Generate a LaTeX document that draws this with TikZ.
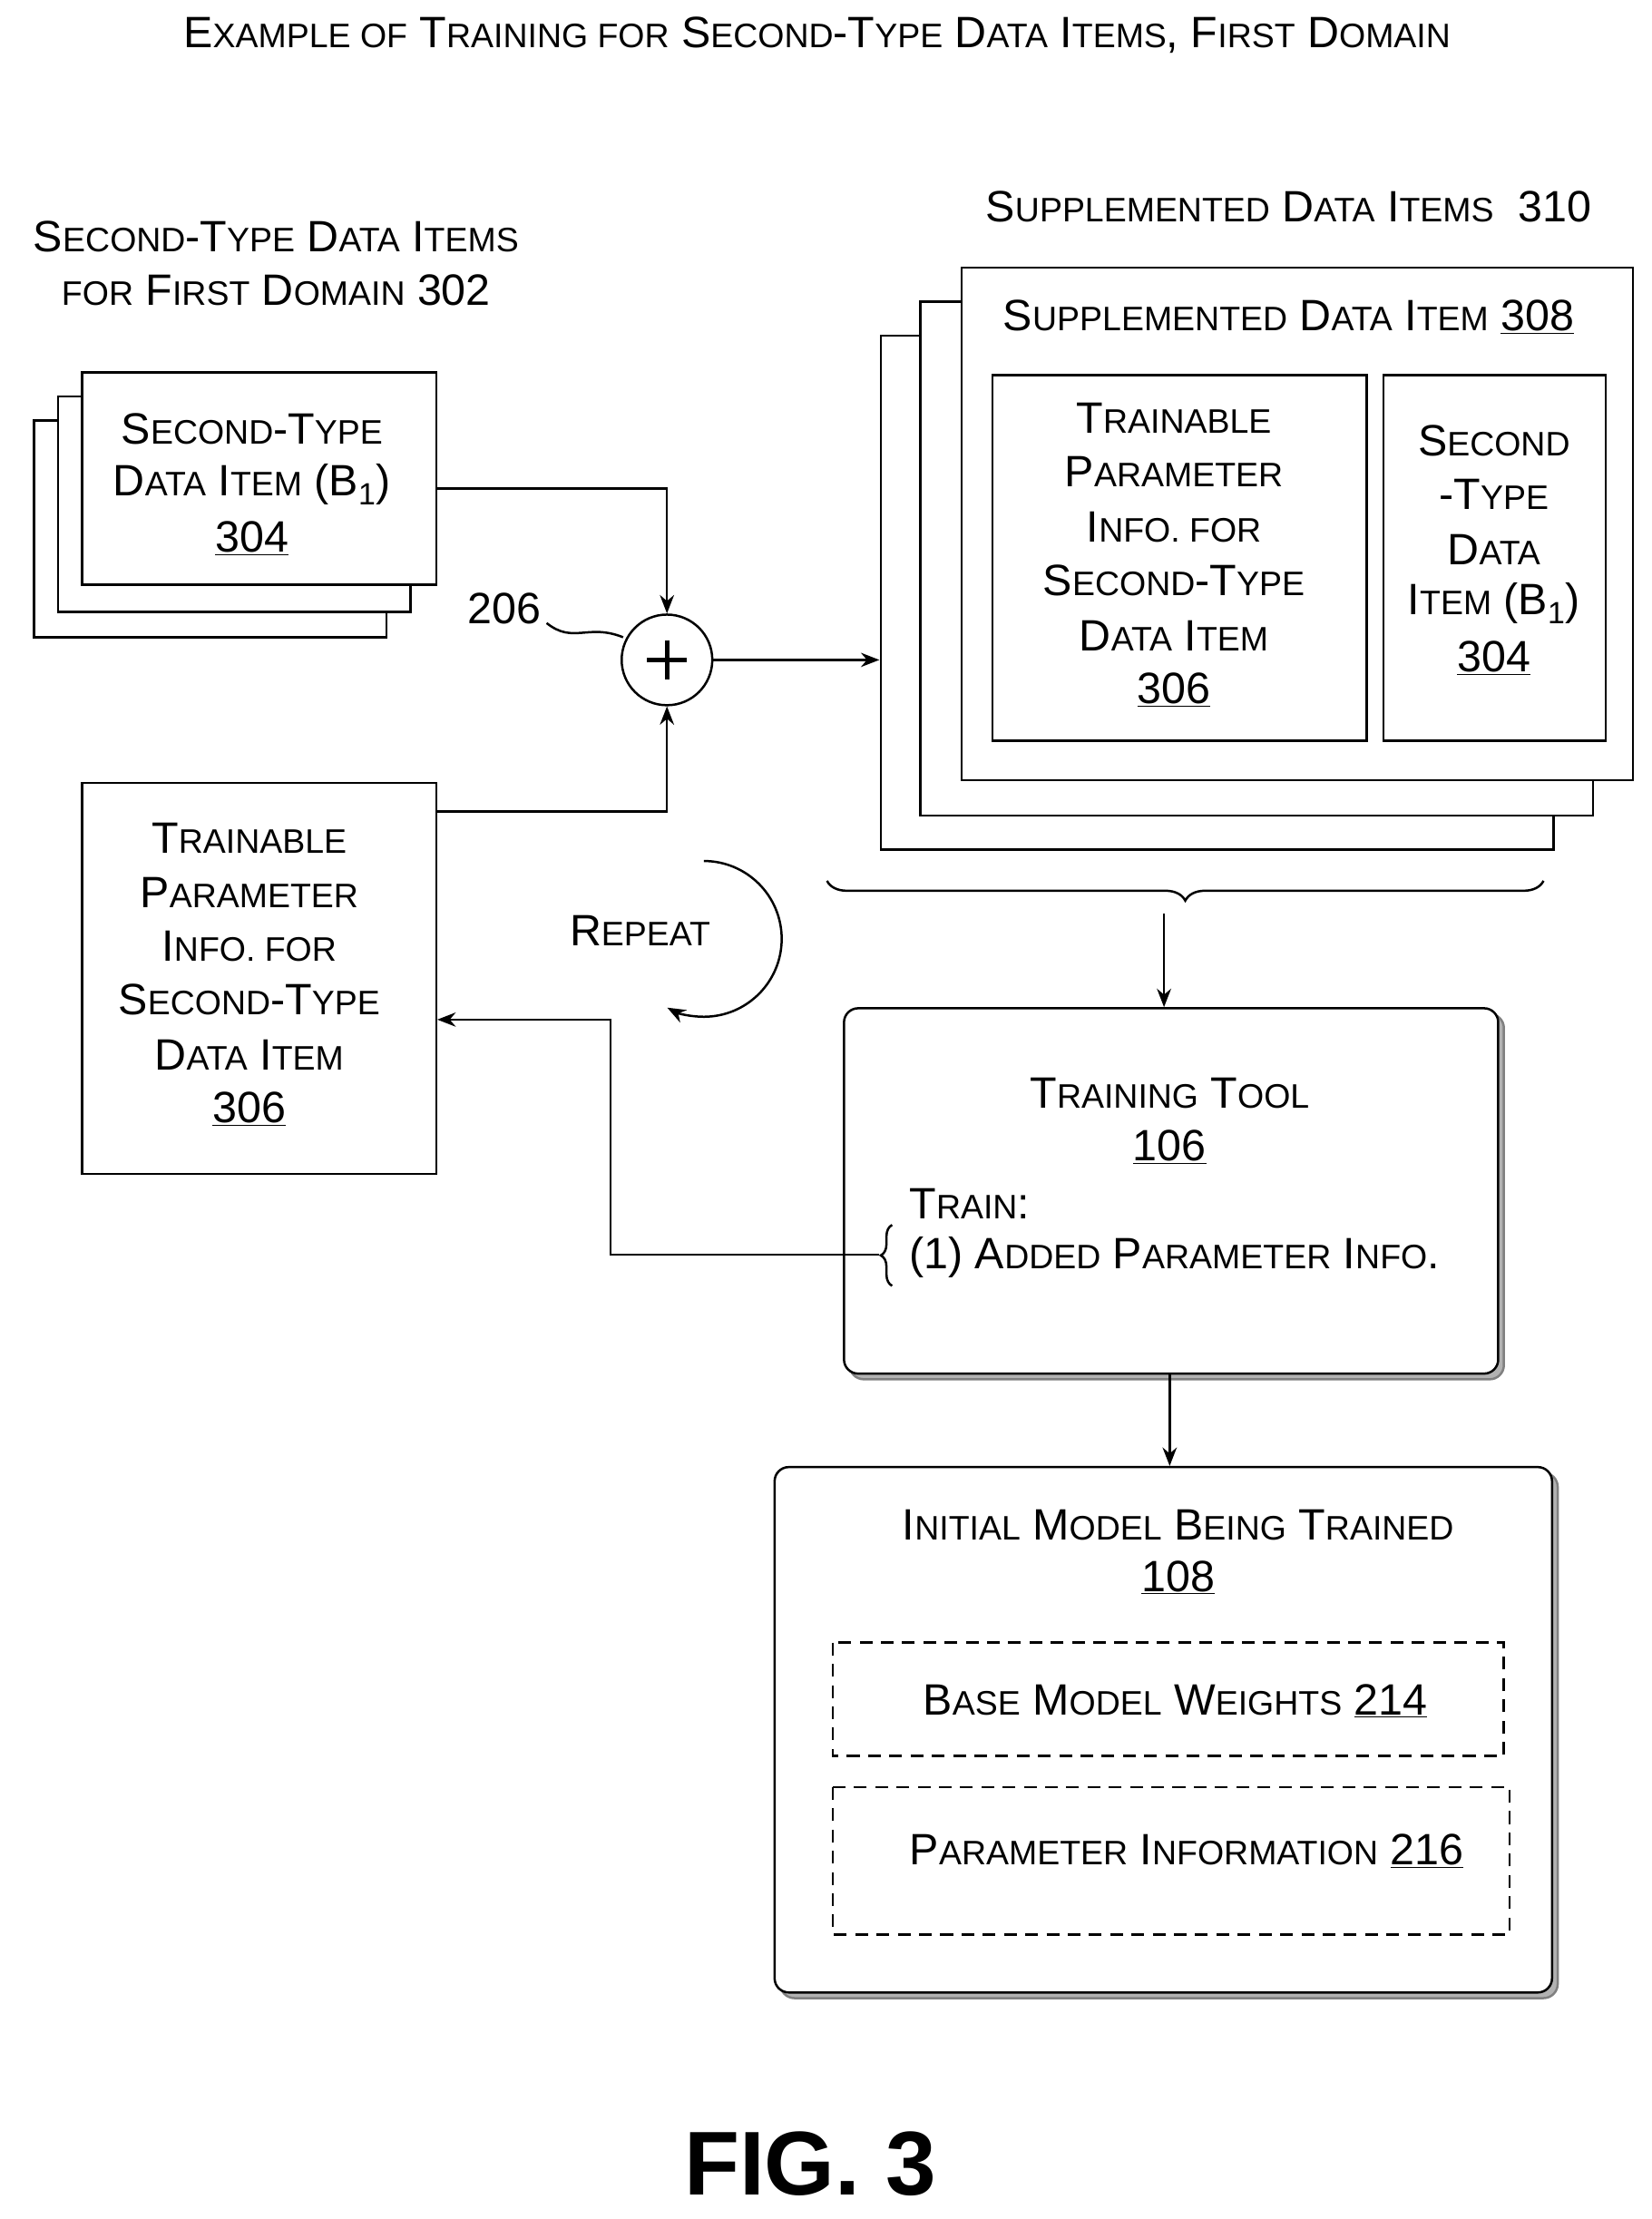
\documentclass[tikz,border=0pt]{standalone}
\usepackage{fontspec}
\setmainfont{Liberation Sans}
\usetikzlibrary{arrows.meta,decorations.pathreplacing}
\newcommand\sm[1]{{\fontsize{24}{24}\selectfont\MakeUppercase{#1}}}
\begin{document}
\begin{tikzpicture}[x=1pt,y=-1pt,
  every node/.style={font=\fontsize{31}{31}\selectfont, inner sep=0pt},
  box/.style={draw, line width=1.6pt, fill=white},
  rbox/.style={draw, line width=1.6pt, fill=white, rounded corners=10pt},
  dbox/.style={draw, line width=1.6pt, dash pattern=on 9pt off 6pt},
  arr/.style={line width=1.6pt, -{Stealth[length=13pt,width=10pt]}},
  ln/.style={line width=1.6pt}]
\useasboundingbox (0,0) rectangle (1166,1567);
\node (title) at (577,25) {E\sm{xample of} T\sm{raining for} S\sm{econd}-T\sm{ype} D\sm{ata} I\sm{tems}, F\sm{irst} D\sm{omain}};
% left stack
\node (l1) at (195,167) {S\sm{econd}-T\sm{ype} D\sm{ata} I\sm{tems}};
\node (l2) at (195,205) {\sm{for} F\sm{irst} D\sm{omain} 302};
\draw[box] (24,297) rectangle (273,450);
\draw[box] (41,280) rectangle (290,432);
\draw[box] (58,263) rectangle (308,413);
\coordinate (a) at (308,345);
\node at (178,303) {S\sm{econd}-T\sm{ype}};
\node at (178,342) {D\sm{ata} I\sm{tem} (B\textsubscript{1})};
\node at (178,380) {\underline{304}};
% plus
\node[draw, circle, line width=1.6pt, minimum size=64pt] (plus) at (471,466) {};
\draw[line width=3pt] (457,466) -- (485,466) (471,452) -- (471,480);
\draw[arr] (a) -| (plus.north);
\node (n206) at (356,430) {206};
\draw[ln] (386,440) .. controls (405,455) and (415,440) .. (440,450);
% trainable box
\node[box, minimum width=250pt, minimum height=276pt] (tp) at (183,691) {};
\node at (176,592) {T\sm{rainable}};
\node at (176,630) {P\sm{arameter}};
\node at (176,668) {I\sm{nfo. for}};
\node at (176,706) {S\sm{econd}-T\sm{ype}};
\node at (176,745) {D\sm{ata} I\sm{tem}};
\node at (176,783) {\underline{306}};
\coordinate (b) at (308,573);
\draw[arr] (b) -| (plus.south);
% supplemented stack
\node at (910,146) {S\sm{upplemented} D\sm{ata} I\sm{tems}\ \ 310};
\draw[box] (622,237) rectangle (1097,600);
\draw[box] (650,213) rectangle (1125,576);
\draw[box] (679,189) rectangle (1153,551);
\coordinate (sin) at (621,466);
\draw[arr] (plus.east) -- (sin);
\node at (910,224) {S\sm{upplemented} D\sm{ata} I\sm{tem} \underline{308}};
\draw[box] (701,265) rectangle (965,523);
\draw[box] (977,265) rectangle (1134,523);
\node at (829,295) {T\sm{rainable}};
\node at (829,333) {P\sm{arameter}};
\node at (829,372) {I\sm{nfo. for}};
\node at (829,410) {S\sm{econd}-T\sm{ype}};
\node at (829,449) {D\sm{ata} I\sm{tem}};
\node at (829,487) {\underline{306}};
\node at (1055,311) {S\sm{econd}};
\node at (1055,349) {-T\sm{ype}};
\node at (1055,388) {D\sm{ata}};
\node at (1055,426) {I\sm{tem} (B\textsubscript{1})};
\node at (1055,465) {\underline{304}};
\draw[ln, decorate, decoration={brace, mirror, amplitude=14pt}] (584,622) -- (1090,622);
\coordinate (bt) at (822,645);
% training tool
\draw[rbox, draw=gray, fill=gray!60] (600,716) rectangle (1062,974);
\node[rbox, minimum width=462pt, minimum height=258pt] (tt) at (827,841) {};
\draw[arr] (bt) -- (tt.north -| bt);
\node at (826,772) {T\sm{raining} T\sm{ool}};
\node at (826,810) {\underline{106}};
\node[anchor=west] at (642,850) {T\sm{rain}:};
\node[anchor=west] at (642,888) {(1) A\sm{dded} P\sm{arameter} I\sm{nfo}.};
\draw[ln, decorate, decoration={brace, amplitude=8pt}] (630,908) -- (630,865);
\coordinate (c) at (621,886);
\draw[arr] (c) -- (431,886) -- (431,720) -- (tp.east |- 0,720);
% repeat
\node at (452,657) {R\sm{epeat}};
\draw[arr] (497,608) arc[start angle=-90, end angle=118, radius=55];
% initial model
\draw[rbox, draw=gray, fill=gray!60] (551,1040) rectangle (1100,1411);
\node[rbox, minimum width=549pt, minimum height=371pt] (im) at (821.5,1221.5) {};
\draw[arr] (tt.south -| 826,0) -- (im.north -| 826,0);
\node at (832,1077) {I\sm{nitial} M\sm{odel} B\sm{eing} T\sm{rained}};
\node at (832,1114) {\underline{108}};
\draw[dbox] (588,1160) rectangle (1062,1240);
\node at (830,1201) {B\sm{ase} M\sm{odel} W\sm{eights} \underline{214}};
\draw[dbox] (588,1262) rectangle (1066,1366);
\node at (838,1307) {P\sm{arameter} I\sm{nformation} \underline{216}};
\node[font=\fontsize{64}{64}\selectfont\bfseries] (fig) at (572,1528) {FIG. 3};
\end{tikzpicture}
\end{document}
